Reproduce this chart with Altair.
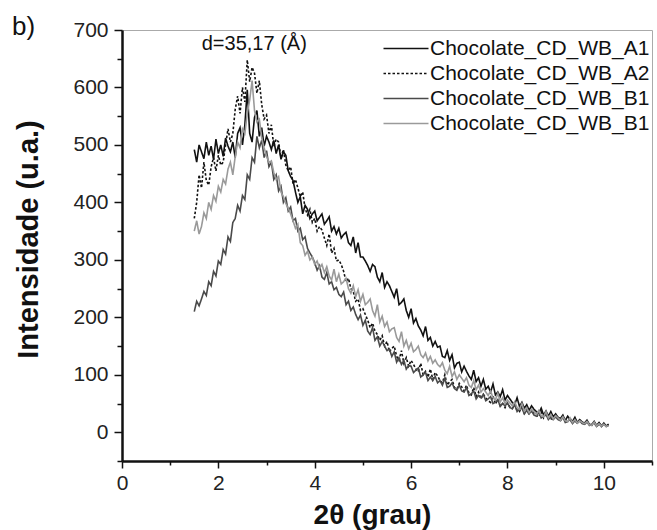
import altair as alt
import numpy as np
import pandas as pd

# 2-theta grid (degrees): start and step of the sampled scan
theta_start = 1.5
theta_step = 0.05

series_keys = ["A1", "A2", "B1", "B1b"]
series_colors = ["#111111", "#111111", "#4a4a4a", "#9a9a9a"]
series_dashes = [[1, 0], [2.5, 2], [1, 0], [1, 0]]

a1 = [
    492, 470, 500, 488, 476, 505, 482, 498, 475, 510,
    485, 500, 480, 512, 498, 488, 505, 478, 520, 530,
    500, 535, 596, 520, 505, 548, 560, 515, 530, 498,
    515, 505, 492, 508, 485, 500, 475, 488, 482, 455,
    445, 438, 418, 400, 410, 380, 395, 388, 372, 380,
    385, 368, 374, 380, 362, 368, 375, 350, 358, 345,
    355, 338, 344, 348, 330, 325, 340, 312, 330, 305,
    305, 298, 290, 280, 292, 288, 270, 262, 278, 252,
    262, 255, 245, 235, 250, 222, 226, 232, 212, 200,
    215, 190, 198, 185, 178, 168, 184, 160, 165, 150,
    158, 148, 150, 132, 130, 142, 125, 135, 112, 120,
    122, 105, 115, 106, 98, 92, 108, 88, 95, 80,
    92, 75, 80, 70, 84, 65, 70, 62, 74, 56,
    64, 58, 52, 48, 60, 45, 52, 42, 48, 38,
    46, 40, 36, 33, 42, 30, 37, 28, 36, 27,
    32, 26, 24, 30, 20, 28, 22, 19, 26, 17,
    22, 18, 16, 21, 14, 13, 19, 12, 17, 11,
    16, 11, 14,
]

a2 = [
    372, 400, 448, 425, 470, 438, 430, 462, 478, 455,
    482, 465, 470, 500, 528, 505, 520, 562, 585, 555,
    600, 575, 648, 610, 635, 625, 590, 612, 570, 545,
    552, 520, 535, 498, 510, 505, 478, 492, 465, 455,
    462, 432, 440, 425, 410, 418, 390, 378, 388, 365,
    372, 350, 358, 352, 338, 325, 345, 312, 320, 298,
    300, 292, 280, 262, 268, 250, 245, 228, 232, 212,
    215, 205, 195, 182, 190, 176, 170, 160, 168, 150,
    158, 140, 146, 150, 132, 125, 142, 120, 130, 115,
    125, 118, 110, 105, 120, 100, 106, 96, 110, 92,
    104, 98, 90, 86, 100, 82, 88, 92, 78, 75,
    85, 79, 72, 82, 68, 65, 78, 62, 70, 58,
    66, 60, 55, 52, 63, 49, 57, 46, 50, 43,
    51, 44, 41, 48, 38, 36, 46, 33, 40, 31,
    38, 33, 29, 27, 36, 25, 32, 28, 24, 22,
    28, 24, 21, 27, 19, 18, 25, 17, 22, 15,
    21, 17, 14, 19, 13, 12, 18, 11, 16, 10,
    15, 10, 13,
]

b1 = [
    210, 228, 220, 232, 245, 238, 262, 255, 280, 272,
    298, 292, 318, 310, 340, 332, 365, 372, 395, 385,
    412, 405, 448, 440, 478, 470, 515, 495, 508, 478,
    490, 462, 470, 440, 448, 420, 428, 400, 408, 385,
    392, 368, 372, 350, 355, 335, 340, 320, 312, 305,
    295, 282, 290, 270, 266, 278, 258, 262, 248, 252,
    240, 236, 244, 222, 228, 212, 218, 205, 196, 204,
    186, 195, 176, 170, 182, 160, 166, 150, 158, 150,
    142, 145, 132, 140, 122, 130, 118, 125, 110, 116,
    115, 104, 108, 112, 96, 100, 104, 90, 96, 90,
    97, 86, 90, 82, 94, 78, 80, 86, 76, 73,
    82, 72, 70, 78, 64, 67, 72, 58, 64, 60,
    66, 55, 58, 62, 50, 52, 57, 45, 50, 46,
    51, 43, 41, 48, 36, 40, 42, 32, 38, 32,
    37, 30, 28, 35, 25, 28, 31, 22, 27, 22,
    27, 22, 20, 26, 17, 19, 22, 15, 20, 16,
    20, 15, 14, 18, 12, 14, 16, 10, 14, 11,
    14, 10, 12,
]

b1b = [
    350, 368, 345, 358, 382, 372, 400, 388, 412, 402,
    428, 418, 440, 432, 458, 470, 448, 480, 505, 495,
    528, 520, 555, 578, 612, 560, 540, 545, 512, 495,
    480, 470, 472, 452, 440, 445, 418, 410, 398, 390,
    380, 368, 355, 362, 330, 325, 308, 315, 300, 305,
    292, 298, 285, 292, 278, 288, 272, 265, 284, 262,
    275, 258, 262, 268, 250, 242, 255, 236, 248, 228,
    240, 222, 226, 232, 212, 202, 222, 192, 202, 184,
    192, 175, 180, 182, 165, 158, 175, 150, 160, 145,
    155, 140, 144, 150, 135, 130, 138, 124, 132, 120,
    126, 118, 114, 121, 108, 102, 115, 97, 105, 92,
    100, 94, 88, 95, 82, 78, 90, 74, 82, 70,
    76, 70, 64, 72, 60, 56, 68, 53, 60, 50,
    56, 51, 46, 53, 43, 40, 50, 37, 43, 34,
    40, 36, 31, 38, 29, 27, 36, 25, 31, 23,
    29, 25, 21, 27, 20, 18, 25, 17, 22, 16,
    20, 17, 15, 19, 13, 12, 18, 11, 15, 11,
    14, 10, 12,
]

x_major = [0, 2, 4, 6, 8, 10]
x_minor = [1, 3, 5, 7, 9, 11]
y_major = [0, 100, 200, 300, 400, 500, 600, 700]
y_minor = [-50, 50, 150, 250, 350, 450, 550, 650]

ann_text = ["d=35,17 (Å)"]
ann_x = [2.745]
ann_y = [665]

FONT = "Liberation Sans"
X_DOMAIN = [0, 11]
Y_DOMAIN = [-50, 700]

rows = []
for key, vals in zip(series_keys, [a1, a2, b1, b1b]):
    thetas = np.round(theta_start + theta_step * np.arange(len(vals)), 2)
    for t, v in zip(thetas, vals):
        rows.append({"theta": float(t), "intensity": v, "serie": key})
df = pd.DataFrame(rows)

legend = alt.Legend(
    title=None,
    orient="none",
    legendX=256,
    legendY=8,
    symbolType="M-1,0H8",
    symbolSize=100,
    symbolStrokeWidth=1.5,
    labelOffset=31,
    labelFont=FONT,
    labelFontSize=21,
    labelColor="#111111",
    labelLimit=0,
    rowPadding=3,
    padding=0,
    labelExpr="'Chocolate_CD_WB_' + substring(datum.label, 0, 2)",
)

common_axis = dict(tickColor="#111111", tickWidth=1.5, grid=False)

x_major_axis = alt.Axis(
    values=x_major,
    orient="bottom",
    tickSize=7,
    domainColor="#111111",
    domainWidth=2.5,
    labelFont=FONT,
    labelFontSize=21,
    labelColor="#222222",
    labelPadding=4,
    labelFlush=False,
    title="2θ (grau)",
    titleFont=FONT,
    titleFontSize=28,
    titleFontWeight="bold",
    titleColor="#111111",
    titleX=250,
    titleY=62,
    titleAlign="center",
    titleBaseline="alphabetic",
    **common_axis,
)

y_major_axis = alt.Axis(
    values=y_major,
    orient="left",
    tickSize=8,
    domainColor="#111111",
    domainWidth=2.5,
    labelFont=FONT,
    labelFontSize=21,
    labelColor="#222222",
    labelPadding=6,
    labelFlush=False,
    title="Intensidade (u.a.)",
    titleFont=FONT,
    titleFontSize=29,
    titleFontWeight="bold",
    titleColor="#111111",
    titleX=-79,
    titleY=209,
    titleAlign="center",
    titleBaseline="bottom",
    **common_axis,
)

x_minor_axis = alt.Axis(values=x_minor, orient="bottom", tickSize=4, domain=False,
                        labels=False, title=None, **common_axis)
y_minor_axis = alt.Axis(values=y_minor, orient="left", tickSize=5, domain=False,
                        labels=False, title=None, **common_axis)

lines = alt.Chart(df).mark_line(strokeWidth=1.6).encode(
    x=alt.X("theta:Q", scale=alt.Scale(domain=X_DOMAIN, nice=False, zero=False), axis=x_major_axis),
    y=alt.Y("intensity:Q", scale=alt.Scale(domain=Y_DOMAIN, nice=False, zero=False), axis=y_major_axis),
    color=alt.Color("serie:N", scale=alt.Scale(domain=series_keys, range=series_colors), legend=legend),
    strokeDash=alt.StrokeDash("serie:N", scale=alt.Scale(domain=series_keys, range=series_dashes), legend=legend),
)

ann_df = pd.DataFrame({"x": ann_x, "y": ann_y, "label": ann_text})
ann = alt.Chart(ann_df).mark_text(
    font=FONT, fontSize=20, color="#111111", align="center", baseline="alphabetic"
).encode(
    x=alt.X("x:Q", scale=alt.Scale(domain=X_DOMAIN, nice=False, zero=False), axis=x_minor_axis),
    y=alt.Y("y:Q", scale=alt.Scale(domain=Y_DOMAIN, nice=False, zero=False), axis=y_minor_axis),
    text="label:N",
)

panel_df = pd.DataFrame({"label": ["b)"]})
panel = alt.Chart(panel_df).mark_text(
    font=FONT, fontSize=26, color="#111111", align="left", baseline="alphabetic"
).encode(x=alt.value(-110), y=alt.value(5), text="label:N")

chart = (
    alt.layer(lines, ann, panel)
    .resolve_axis(x="independent", y="independent")
    .properties(
        width=530,
        height=431,
        autosize=alt.AutoSizeParams(type="none"),
        padding={"left": 122, "top": 30, "right": 5, "bottom": 69},
        background="white",
    )
    .configure_view(stroke="#aaaaaa", strokeWidth=1)
)

chart.save("out.html", embed_options={"renderer": "svg", "actions": False})
